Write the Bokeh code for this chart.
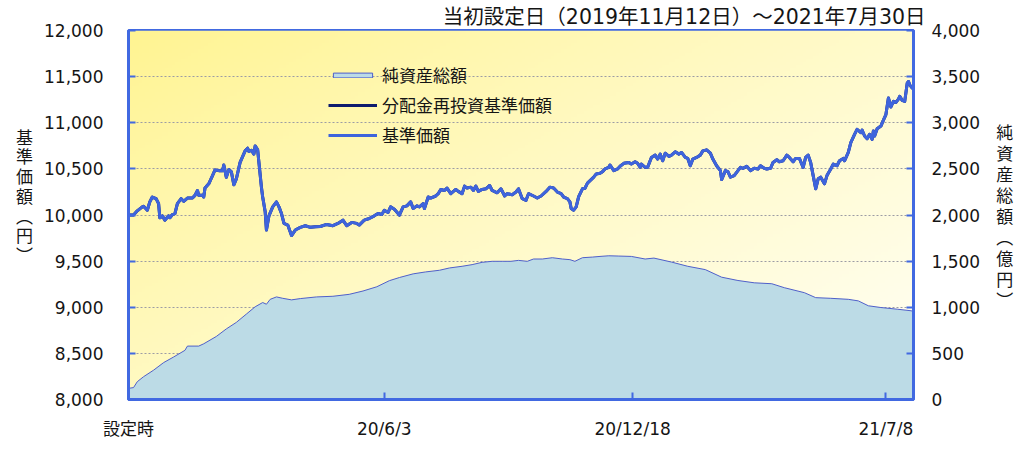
import numpy as np
import pandas as pd
from bokeh.plotting import figure
from bokeh.models import (Range1d, LinearAxis, FixedTicker, NumeralTickFormatter,
                          Legend, LegendItem, Title)
from bokeh.embed import file_html
from bokeh.resources import INLINE

# ---------------- data ----------------
launch_date = "2019-11-12"
end_date = "2021-07-30"
x_tick_dates = ["2019-11-12", "2020-06-03", "2020-12-18", "2021-07-08"]
x_tick_labels = ["設定時", "20/6/3", "20/12/18", "21/7/8"]
nav_ticks = [8000, 8500, 9000, 9500, 10000, 10500, 11000, 11500, 12000]
asset_ticks = [0, 500, 1000, 1500, 2000, 2500, 3000, 3500, 4000]

# days since launch for each NAV reading (基準価額, 円)
nav_day = [
    0, 4, 7, 11, 12, 15, 17, 19, 22, 24,
    25, 27, 29, 32, 33, 35, 37, 39, 42, 44,
    47, 51, 53, 55, 56, 59, 60, 61, 64, 67,
    69, 72, 75, 76, 78, 80, 82, 84, 86, 89,
    93, 95, 96, 98, 100, 101, 103, 104, 106, 107,
    109, 110, 112, 115, 118, 120, 122, 124, 127, 130,
    133, 137, 141, 145, 149, 153, 158, 163, 167, 171,
    174, 178, 182, 184, 188, 192, 196, 199, 202, 204,
    207, 209, 212, 215, 216, 219, 222, 225, 227, 230,
    232, 235, 236, 239, 241, 245, 247, 249, 252, 254,
    257, 261, 263, 266, 268, 270, 273, 275, 277, 279,
    282, 285, 288, 290, 294, 297, 300, 302, 306, 309,
    311, 314, 317, 319, 323, 326, 329, 333, 336, 339,
    342, 345, 347, 350, 352, 353, 355, 357, 359, 362,
    364, 366, 371, 373, 376, 378, 380, 383, 384, 387,
    390, 392, 395, 399, 401, 404, 406, 408, 409, 412,
    414, 417, 420, 422, 424, 426, 428, 431, 433, 436,
    439, 441, 444, 446, 448, 450, 453, 456, 458, 461,
    464, 466, 469, 472, 473, 476, 478, 480, 483, 486,
    488, 490, 493, 496, 499, 502, 504, 507, 509, 512,
    514, 517, 519, 522, 525, 527, 530, 532, 535, 538,
    540, 542, 544, 546, 548, 550, 552, 555, 557, 560,
    562, 565, 567, 570, 571, 574, 576, 579, 581, 584,
    585, 587, 589, 591, 593, 594, 595, 597, 600, 602,
    604, 606, 608, 610, 612, 614, 615, 617, 619, 621,
    622, 623, 625, 626]

nav_value = [
    10000, 10000, 10045, 10088, 10095, 10052, 10142, 10195, 10177, 10123,
    9970, 9991, 9944, 9991, 9970, 10005, 10016, 10123, 10177, 10148,
    10184, 10184, 10213, 10266, 10213, 10213, 10195, 10292, 10338, 10427,
    10488, 10481, 10481, 10542, 10410, 10492, 10470, 10327, 10392, 10570,
    10695, 10724, 10688, 10702, 10660, 10749, 10706, 10570, 10302, 10195,
    10034, 9837, 9991, 10088, 10142, 10088, 10016, 9909, 9891, 9777,
    9837, 9866, 9884, 9866, 9873, 9875, 9898, 9884, 9909, 9944,
    9884, 9920, 9909, 9891, 9944, 9962, 9991, 10016, 10005, 10052,
    10027, 10088, 10062, 10016, 9998, 10088, 10099, 10142, 10070, 10099,
    10088, 10123, 10070, 10195, 10184, 10206, 10231, 10277, 10266, 10292,
    10231, 10277, 10256, 10231, 10313, 10292, 10302, 10266, 10313, 10256,
    10277, 10284, 10320, 10266, 10241, 10284, 10206, 10231, 10220, 10249,
    10284, 10177, 10159, 10231, 10206, 10184, 10206, 10256, 10302, 10292,
    10249, 10231, 10195, 10177, 10142, 10070, 10052, 10088, 10200, 10284,
    10290, 10345, 10410, 10445, 10452, 10470, 10499, 10517, 10542, 10481,
    10499, 10528, 10560, 10570, 10552, 10577, 10560, 10517, 10552, 10517,
    10517, 10624, 10649, 10606, 10660, 10588, 10670, 10635, 10649, 10685,
    10660, 10678, 10624, 10613, 10534, 10606, 10624, 10649, 10695, 10706,
    10670, 10606, 10534, 10481, 10384, 10481, 10470, 10410, 10427, 10481,
    10517, 10506, 10528, 10481, 10506, 10499, 10534, 10506, 10499, 10506,
    10570, 10599, 10577, 10588, 10649, 10624, 10577, 10613, 10613, 10517,
    10624, 10649, 10570, 10427, 10284, 10392, 10410, 10338, 10427, 10499,
    10552, 10534, 10588, 10613, 10588, 10678, 10785, 10874, 10928, 10892,
    10921, 10856, 10828, 10874, 10820, 10910, 10856, 10935, 10964, 11028,
    11089, 11268, 11171, 11232, 11221, 11257, 11286, 11243, 11232, 11429,
    11447, 11411, 11375, 11370]

# no distributions: the reinvested NAV equals the NAV
reinv_value = list(nav_value)

# net assets (純資産総額, 億円)
asset_day = [0, 4, 7, 12, 20, 28, 36, 45, 47, 56, 60, 70, 78, 86, 94, 101, 107,
             110, 113, 118, 123, 130, 137, 150, 163, 176, 187, 198, 208, 216,
             227, 237, 248, 256, 266, 274, 282, 290, 298, 305, 311, 318, 323,
             330, 338, 346, 352, 356, 362, 370, 376, 383, 391, 401, 412, 419,
             433, 446, 460, 473, 486, 499, 513, 523, 539, 548, 560, 574, 582,
             590, 600, 613, 624, 626]
asset_value = [121, 129, 193, 247, 318, 400, 461, 533, 579, 579, 604, 683, 765,
               836, 926, 1005, 1051, 1033, 1086, 1112, 1097, 1080, 1094, 1112,
               1119, 1140, 1176, 1222, 1288, 1322, 1362, 1383, 1401, 1426, 1444,
               1462, 1487, 1498, 1498, 1498, 1508, 1498, 1523, 1523, 1537, 1523,
               1516, 1498, 1537, 1544, 1551, 1558, 1555, 1551, 1523, 1533, 1490,
               1444, 1408, 1326, 1290, 1265, 1255, 1212, 1158, 1104, 1097, 1086,
               1069, 1016, 997, 979, 962, 955]

left_title_chars = ["基", "準", "価", "額", "︵", "円", "︶"]
right_title_chars = ["純", "資", "産", "総", "額", "︵", "億", "円", "︶"]
title_text = "当初設定日（2019年11月12日）～2021年7月30日"

# ---------------- styles ----------------
FRAME_BLUE = "#4169E1"
NAV_BLUE = "#3e64dc"
NAVY = "#0d1b6e"
AREA_FILL = "#bcdbe6"
AREA_LINE = "#4f5fc9"
LATIN = "DejaVu Sans, Noto Sans CJK JP"
CJK = "Noto Sans CJK JP"
TXT = "#151515"

launch = pd.Timestamp(launch_date)
end = pd.Timestamp(end_date)
nav_dates = [launch + pd.Timedelta(days=d) for d in nav_day]
asset_dates = [launch + pd.Timedelta(days=d) for d in asset_day]

p = figure(width=1016, height=441, x_axis_type="datetime",
           x_range=Range1d(launch, end), y_range=Range1d(nav_ticks[0], nav_ticks[-1]),
           output_backend="svg", toolbar_location=None,
           min_border_left=128, min_border_right=100,
           min_border_top=30, min_border_bottom=38,
           background_fill_color="white", border_fill_color="white")
p.extra_y_ranges = {"assets": Range1d(asset_ticks[0], asset_ticks[-1])}

# title above the frame, right aligned (slightly past the frame's right edge)
p.title = Title(text=title_text, align="right", offset=-12, standoff=3,
                text_font=LATIN, text_font_size="20.5px", text_font_style="normal",
                text_color=TXT)

# background gradient (yellow top-left -> near white bottom-right)
nx, ny = 240, 120
u = np.linspace(0, 1, nx)[None, :]
v = np.linspace(1, 0, ny)[:, None]  # distance from top (row 0 = bottom)
t = np.clip((u * 0.55 + v * 0.45), 0, 1) ** 0.9
c0 = np.array([255, 244, 145])
c1 = np.array([255, 255, 246])
img = np.empty((ny, nx), dtype=np.uint32)
view = img.view(dtype=np.uint8).reshape((ny, nx, 4))
for k in range(3):
    view[:, :, k] = (c0[k] + (c1[k] - c0[k]) * t).astype(np.uint8)
view[:, :, 3] = 255
x0 = launch.value / 1e6
dw = (end.value - launch.value) / 1e6
p.image_rgba(image=[img], x=x0, y=nav_ticks[0], dw=dw,
             dh=nav_ticks[-1] - nav_ticks[0], level="image")

# grid
p.xgrid.visible = False
p.ygrid.ticker = FixedTicker(ticks=nav_ticks)
p.ygrid.grid_line_color = "#9c9ca4"
p.ygrid.grid_line_dash = "2 2"
p.ygrid.grid_line_width = 1

# net assets area
area = p.patch(asset_dates + asset_dates[::-1], asset_value + [0] * len(asset_value),
               fill_color=AREA_FILL, line_color=AREA_LINE, line_width=1,
               y_range_name="assets")
reinv = p.line(nav_dates, reinv_value, line_color=NAVY, line_width=3, line_join="round")
nav = p.line(nav_dates, nav_value, line_color=NAV_BLUE, line_width=3, line_join="round")

# axes
def style_axis(ax, standoff):
    ax.axis_line_color = FRAME_BLUE
    ax.axis_line_width = 3
    ax.major_tick_line_color = FRAME_BLUE
    ax.major_tick_line_width = 2
    ax.major_tick_in = 7
    ax.major_tick_out = 0
    ax.minor_tick_line_color = None
    ax.major_label_text_font = LATIN
    ax.major_label_text_font_size = "17px"
    ax.major_label_text_color = TXT
    ax.major_label_standoff = standoff


def stacked_label(ax, chars, pad_lines, line_height, standoff):
    ax.axis_label_text_font = CJK
    ax.axis_label_text_font_size = "17px"
    ax.axis_label_text_font_style = "normal"
    ax.axis_label_text_color = TXT
    ax.axis_label_standoff = standoff
    try:
        ax.axis_label_orientation = "horizontal"
        ax.axis_label_text_line_height = line_height
        ax.axis_label = "\n".join(chars + ["\u3000"] * pad_lines)
    except Exception:
        ax.axis_label = "".join(chars)


ly = p.yaxis[0]
ly.ticker = FixedTicker(ticks=nav_ticks)
ly.formatter = NumeralTickFormatter(format="0,0")
style_axis(ly, 25)
stacked_label(ly, left_title_chars, 2, 0.79, 8)

ry = LinearAxis(y_range_name="assets", ticker=FixedTicker(ticks=asset_ticks),
                formatter=NumeralTickFormatter(format="0,0"))
style_axis(ry, 18)
stacked_label(ry, right_title_chars, 0, 0.84, 13)
p.add_layout(ry, "right")

xa = p.xaxis[0]
tick_ms = [pd.Timestamp(d).value // 10**6 for d in x_tick_dates]
xa.ticker = FixedTicker(ticks=tick_ms)
xa.major_label_overrides = {ms: lab for ms, lab in zip(tick_ms, x_tick_labels)}
style_axis(xa, 19)

p.outline_line_color = FRAME_BLUE
p.outline_line_width = 3
p.outline_line_alpha = 1

# legend
legend = Legend(items=[LegendItem(label="純資産総額", renderers=[area]),
                       LegendItem(label="分配金再投資基準価額", renderers=[reinv]),
                       LegendItem(label="基準価額", renderers=[nav])],
                location=(200, 252), orientation="vertical",
                glyph_width=49, glyph_height=6, label_height=20, spacing=5,
                padding=0, margin=0, label_standoff=5,
                border_line_color=None, background_fill_alpha=0,
                label_text_font=CJK, label_text_font_size="17px",
                label_text_color=TXT)
p.add_layout(legend)

open("out.html", "w").write(file_html(p, INLINE))
